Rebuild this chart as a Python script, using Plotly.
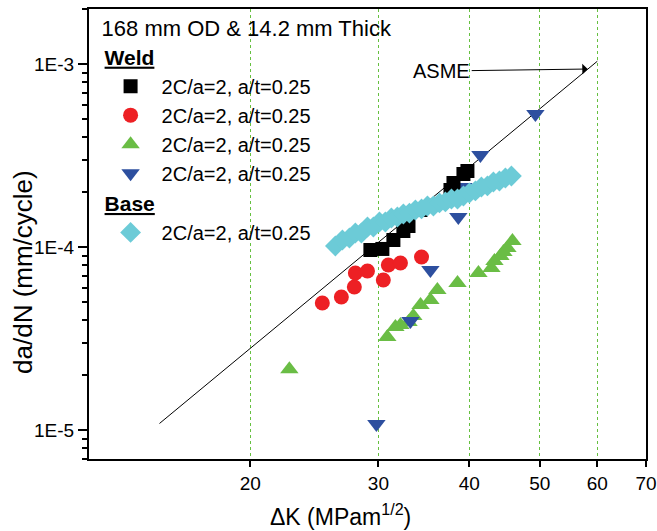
import math
import plotly.graph_objects as go

FONT = "Liberation Sans, Arial, sans-serif"

# Weld metal, 168 mm OD & 14.2 mm wall, semi-elliptical flaws 2C/a=2, a/t=0.25
weld_label = "2C/a=2, a/t=0.25"

weld_sq_dk = [29.25, 30.38, 31.46, 32.47, 33.0, 34.28, 37.69, 38.05, 39.27, 39.77]
weld_sq_rate = [9.67e-5, 9.80e-5, 1.097e-4, 1.228e-4, 1.308e-4, 1.600e-4,
                2.058e-4, 2.247e-4, 2.517e-4, 2.614e-4]

weld_ci_dk = [25.12, 26.68, 27.80, 27.89, 28.98, 30.47, 30.96, 32.17, 34.39]
weld_ci_rate = [4.96e-5, 5.35e-5, 6.07e-5, 7.24e-5, 7.43e-5, 6.63e-5,
                8.01e-5, 8.21e-5, 8.86e-5]

weld_tu_dk = [22.63, 30.86, 31.66, 32.17, 33.0, 33.51, 34.28, 35.37, 36.16,
              38.54, 41.18, 42.91, 43.32, 44.15, 44.57, 45.14, 45.86]
weld_tu_rate = [2.16e-5, 3.24e-5, 3.67e-5, 3.76e-5, 3.91e-5, 4.22e-5, 4.84e-5,
                5.16e-5, 5.85e-5, 6.39e-5, 7.24e-5, 7.71e-5, 8.42e-5, 8.97e-5,
                9.43e-5, 9.92e-5, 1.083e-4]

weld_td_dk = [29.81, 33.20, 35.37, 38.64, 39.27, 41.44, 49.32]
weld_td_rate = [1.083e-5, 3.96e-5, 7.52e-5, 1.465e-4, 2.137e-4, 3.197e-4, 5.354e-4]

# Base metal
base_dk = [26.18, 26.77, 27.37, 27.89, 28.43, 28.98, 29.53, 30.10, 30.67, 31.26,
           31.86, 32.47, 33.10, 33.73, 34.39, 35.04, 35.71, 36.40, 37.09, 37.81,
           38.54, 39.27, 40.02, 40.79, 41.57, 42.37, 43.18, 44.01, 44.85, 45.71]
base_rate = [1.017e-4, 1.097e-4, 1.125e-4, 1.198e-4, 1.198e-4, 1.292e-4, 1.292e-4,
             1.376e-4, 1.376e-4, 1.447e-4, 1.465e-4, 1.521e-4, 1.540e-4, 1.600e-4,
             1.621e-4, 1.683e-4, 1.683e-4, 1.748e-4, 1.770e-4, 1.838e-4, 1.838e-4,
             1.908e-4, 1.982e-4, 2.033e-4, 2.137e-4, 2.165e-4, 2.276e-4, 2.305e-4,
             2.393e-4, 2.454e-4]

# ASME reference curve end points
asme_dk = [15.0, 60.0]
asme_rate = [1.09e-5, 1.04e-3]
asme_arrow_dk = 58.2
asme_arrow_rate = 9.43e-4

x_ticks = [20, 30, 40, 50, 60, 70]
y_ticks = [1e-5, 1e-4, 1e-3]
y_tick_text = ["1E-5", "1E-4", "1E-3"]
y_minor = [k * 10.0 ** e for e in (-6, -5, -4, -3) for k in range(2, 10)]

series = [
    # (x, y, symbol, colour, size, group, rank)
    (weld_tu_dk, weld_tu_rate, "triangle-up", "#6abd45", 16, "weld", 3),
    (weld_td_dk, weld_td_rate, "triangle-down", "#2d4f9f", 16, "weld", 4),
    (weld_ci_dk, weld_ci_rate, "circle", "#ed2024", 15, "weld", 2),
    (weld_sq_dk, weld_sq_rate, "square", "#000000", 14, "weld", 1),
    (base_dk, base_rate, "diamond", "#6ccbd7", 16, "base", 5),
]

fig = go.Figure()

fig.add_trace(go.Scatter(
    x=asme_dk, y=asme_rate, mode="lines",
    line=dict(color="black", width=1), showlegend=False, hoverinfo="skip",
))

for xs, ys, sym, col, size, grp, rank in series:
    kw = dict(legendgroup=grp, legendrank=rank)
    if grp == "weld" and rank == 1:
        kw["legendgrouptitle"] = dict(text="<b><u>Weld</u></b>", font=dict(size=21))
    if grp == "base":
        kw["legendgrouptitle"] = dict(text="<b><u>Base</u></b>", font=dict(size=21))
    fig.add_trace(go.Scatter(
        x=xs, y=ys, mode="markers", name=weld_label,
        marker=dict(symbol=sym, color=col, size=size, line=dict(width=0)),
        **kw,
    ))

fig.add_annotation(
    x=math.log10(asme_arrow_dk), y=math.log10(asme_arrow_rate),
    xref="x", yref="y", text="ASME", showarrow=True,
    ax=-146, ay=2, arrowhead=1, arrowsize=1.8, arrowwidth=1, arrowcolor="black",
    standoff=0, font=dict(size=20, color="black"),
)

# axis titles
fig.add_annotation(
    x=0.4524, y=-0.124, xref="paper", yref="paper", showarrow=False,
    text="\u0394K (MPam<sup>1/2</sup>)", font=dict(size=23, color="black"),
    xanchor="center", yanchor="middle",
)
fig.add_annotation(
    x=-0.1185, y=0.4156, xref="paper", yref="paper", showarrow=False,
    text="da/dN (mm/cycle)", textangle=-90, font=dict(size=26, color="black"),
    xanchor="center", yanchor="middle",
)

fig.update_xaxes(
    type="log", range=[math.log10(12.0), math.log10(70.0)], automargin=False,
    tickmode="array", tickvals=x_ticks, ticktext=[str(v) for v in x_ticks],
    ticks="outside", ticklen=6, tickwidth=1.5, tickcolor="black",
    showline=True, linecolor="black", linewidth=2, mirror=True,
    showgrid=True, gridcolor="#66c040", gridwidth=1, griddash="dot",
    zeroline=False, tickfont=dict(size=19, color="black"),
)
fig.update_yaxes(
    type="log", range=[-5.1566, -2.6975], automargin=False,
    tickmode="array", tickvals=y_ticks, ticktext=y_tick_text,
    ticks="outside", ticklen=9, tickwidth=1.5, tickcolor="black",
    minor=dict(tickmode="array", tickvals=y_minor, ticks="outside",
               ticklen=5, tickwidth=1.5, tickcolor="black", showgrid=False),
    showline=True, linecolor="black", linewidth=2, mirror=True,
    showgrid=False, zeroline=False, tickfont=dict(size=19, color="black"),
)

fig.update_layout(
    width=657, height=531,
    margin=dict(l=89, r=11, t=9, b=72, autoexpand=False),
    paper_bgcolor="white", plot_bgcolor="white",
    font=dict(family=FONT, color="black", size=20),
    legend=dict(
        x=0.019, y=1.0028, xanchor="left", yanchor="top",
        bgcolor="rgba(0,0,0,0)", borderwidth=0, itemwidth=52,
        title=dict(text="168 mm OD & 14.2 mm Thick", font=dict(size=22)),
        font=dict(size=20), tracegroupgap=0, traceorder="grouped",
    ),
    showlegend=True,
)

fig.write_html("out.html")
